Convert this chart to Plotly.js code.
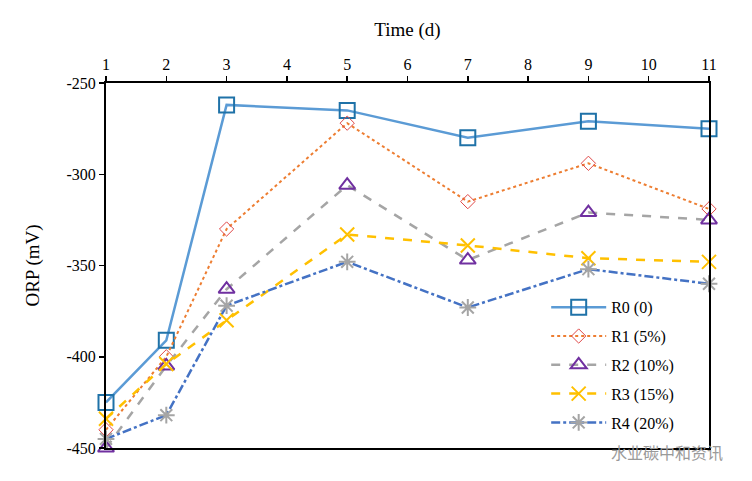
<!DOCTYPE html>
<html><head><meta charset="utf-8">
<script src="https://cdn.plot.ly/plotly-3.0.1.min.js"></script>
<style>body{margin:0;background:#fff}#c{width:752px;height:481px}</style>
</head><body><div id="c"></div>
<script>
const days = [1, 2, 3, 5, 7, 9, 11];
const seriesNames = ["R0 (0)", "R1 (5%)", "R2 (10%)", "R3 (15%)", "R4 (20%)"];
const r0 = [-425, -391, -262, -265, -280, -271, -275];
const r1 = [-440, -400, -330, -272, -315, -294, -319];
const r2 = [-450, -405, -363, -306, -347, -321, -325];
const r3 = [-434, -404, -380, -333, -339, -346, -348];
const r4 = [-445, -432, -372, -348, -373, -352, -360];
const xTicks = [1,2,3,4,5,6,7,8,9,10,11];
const yTicks = [-450, -400, -350, -300, -250];
const yTickText = ["-450", "-400", "-350", "-300", "-250"];

const styles = [
  {line:{color:'#5B9BD5', width:2.5, dash:'solid'}, marker:{symbol:'square-open', size:15, color:'#1F72A8', line:{width:2, color:'#1F72A8'}}},
  {line:{color:'#ED7D31', width:2, dash:'dot'}, marker:{symbol:'diamond-open', size:11, color:'#E04848', line:{width:1, color:'#E04848'}}},
  {line:{color:'#A5A5A5', width:2.5, dash:'dash'}, marker:{symbol:'triangle-up-open', size:14, color:'#7030A0', line:{width:2, color:'#7030A0'}}},
  {line:{color:'#FFC000', width:2.5, dash:'dash'}, marker:{symbol:'x-thin-open', size:14, color:'#FFC000', line:{width:2, color:'#FFC000'}}},
  {line:{color:'#4472C4', width:2.5, dash:'dashdot'}, marker:{symbol:'asterisk-open', size:14, color:'#A5A5A5', line:{width:2, color:'#A5A5A5'}}}
];
const vals = [r0, r1, r2, r3, r4];
const traces = vals.map((v, i) => ({
  x: days, y: v, name: seriesNames[i], type: 'scatter', mode: 'lines+markers',
  line: styles[i].line, marker: styles[i].marker, cliponaxis: false, legendgroup: 'g' + i
}));

const layout = {
  width: 752, height: 481,
  margin: {l: 106, r: 43, t: 83, b: 33},
  paper_bgcolor: '#fff', plot_bgcolor: '#fff',
  font: {family: '"Liberation Serif", "Times New Roman", serif', size: 16, color: '#000'},
  showlegend: true,
  legend: {x: 0.73, y: 0.432, xanchor: 'left', yanchor: 'top', bgcolor: 'rgba(0,0,0,0)',
           font: {size: 16}, tracegroupgap: 5, itemwidth: 55},
  xaxis: {range: [1, 11], side: 'top', tickvals: xTicks, ticks: 'outside', ticklen: 5, tickwidth: 1.5,
          tickcolor: '#000', showline: true, linecolor: '#000', linewidth: 2, mirror: true,
          showgrid: false, zeroline: false, title: {text: 'Time (d)', font: {size: 19}, standoff: 14}},
  yaxis: {range: [-450, -250], tickvals: yTicks, ticktext: yTickText, ticks: 'outside', ticklen: 5, tickwidth: 1.5,
          tickcolor: '#000', showline: true, linecolor: '#000', linewidth: 2, mirror: true,
          showgrid: false, zeroline: false, title: {text: 'ORP (mV)', font: {size: 19}, standoff: 22}},
  annotations: [{xref: 'paper', yref: 'paper', x: 1.027, y: -0.012, xanchor: 'right', yanchor: 'middle', showarrow: false,
    text: '水业碳中和资讯', font: {family: '"Noto Sans CJK SC"', size: 16, color: '#9a9a9a'}}]
};
Plotly.newPlot('c', traces, layout, {displayModeBar: false, staticPlot: true});
</script></body></html>
